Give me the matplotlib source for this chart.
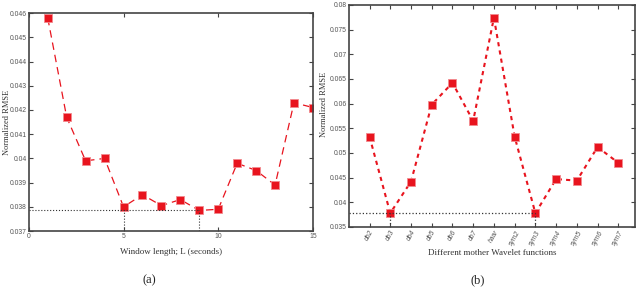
import matplotlib

matplotlib.use("Agg")
import matplotlib.pyplot as plt
import numpy as np

# (a) window length sweep
win_len = [1, 2, 3, 4, 5, 6, 7, 8, 9, 10, 11, 12, 13, 14, 15]
rmse_a = [0.0458, 0.0417, 0.0399, 0.0400, 0.0380, 0.0385, 0.03805, 0.0383,
          0.03785, 0.0379, 0.0398, 0.0395, 0.0389, 0.0423, 0.0421]

# (b) mother wavelet comparison
wavelets = ["db2", "db3", "db4", "db5", "db6", "db7", "haar",
            "sym2", "sym3", "sym4", "sym5", "sym6", "sym7"]
rmse_b = [0.0533, 0.0378, 0.0442, 0.0598, 0.0642, 0.0565, 0.0774,
          0.0533, 0.0378, 0.0447, 0.0444, 0.0512, 0.0480]

RED = "#e8141e"
tick_font = dict(family=["Liberation Sans Narrow", "Liberation Sans"], size=4.9,
                 color="#555555")
serif = "Liberation Serif"

fig = plt.figure(figsize=(6.4, 2.91), dpi=100)
ax1 = fig.add_axes([0.045, 0.206, 0.444, 0.749])
ax2 = fig.add_axes([0.545, 0.22, 0.447, 0.763])

for ax in (ax1, ax2):
    for sp in ax.spines.values():
        sp.set_color("#444444")
        sp.set_linewidth(1.2)
    ax.tick_params(direction="in", top=True, right=True, length=3,
                   width=0.8, color="#444444", pad=1.5)

# --- panel (a)
ax1.plot(win_len, rmse_a, ls=(0, (6, 4)), color=RED, lw=0.9, marker="s",
         ms=6, mfc=RED, mec="#f28a8e", mew=0.6)
best_a = min(rmse_a)
ax1.plot([0, 9], [best_a, best_a], ls=":", color="#333333", lw=0.8)
for xv in (5, 9):
    ax1.plot([xv, xv], [0.037, best_a], ls=":", color="#333333", lw=0.8)
ax1.set_xlim(0, 15)
ax1.set_ylim(0.037, 0.046)
ax1.set_xticks([0, 5, 10, 15])
ya = np.arange(0.037, 0.0461, 0.001)
ax1.set_yticks(ya)
ax1.set_xticklabels(["0", "5", "10", "15"], **tick_font)
ax1.set_yticklabels([f"{v:g}" for v in np.round(ya, 3)], **tick_font)
ax1.set_xlabel("Window length; L (seconds)", family=serif, size=6.5,
               color="#333333", labelpad=6)
ax1.set_ylabel("Normalized RMSE", family=serif, size=6, color="#333333")
ax1.yaxis.set_label_coords(-0.062, 0.5)

# --- panel (b)
xb = np.arange(1, len(wavelets) + 1)
ax2.plot(xb, rmse_b, ls=(0, (2, 2)), color=RED, lw=1.5, marker="s",
         ms=6, mfc=RED, mec="#f28a8e", mew=0.6)
best_b = min(rmse_b)
ax2.plot([0, 9], [best_b, best_b], ls=":", color="#333333", lw=0.9)
for xv in (2, 9):
    ax2.plot([xv, xv], [0.035, best_b], ls=":", color="#333333", lw=0.9)
ax2.set_xlim(0, 13.8)
ax2.set_ylim(0.035, 0.08)
ax2.set_xticks(xb)
ax2.set_xticklabels(wavelets, rotation=60, style="italic", ha="center",
                    **tick_font)
yb = np.arange(0.035, 0.0801, 0.005)
ax2.set_yticks(yb)
ax2.set_yticklabels([f"{v:g}" for v in np.round(yb, 3)], **tick_font)
ax2.set_xlabel("Different mother Wavelet functions", family=serif, size=6.5,
               color="#333333", labelpad=2)
ax2.set_ylabel("Normalized RMSE", family=serif, size=6, color="#333333")
ax2.yaxis.set_label_coords(-0.072, 0.55)

fig.text(0.234, 0.025, "(a)", family=serif, size=9, ha="center", color="#222222")
fig.text(0.747, 0.025, "(b)", family=serif, size=9, ha="center", color="#222222")

fig.savefig("out.png", dpi=100)
